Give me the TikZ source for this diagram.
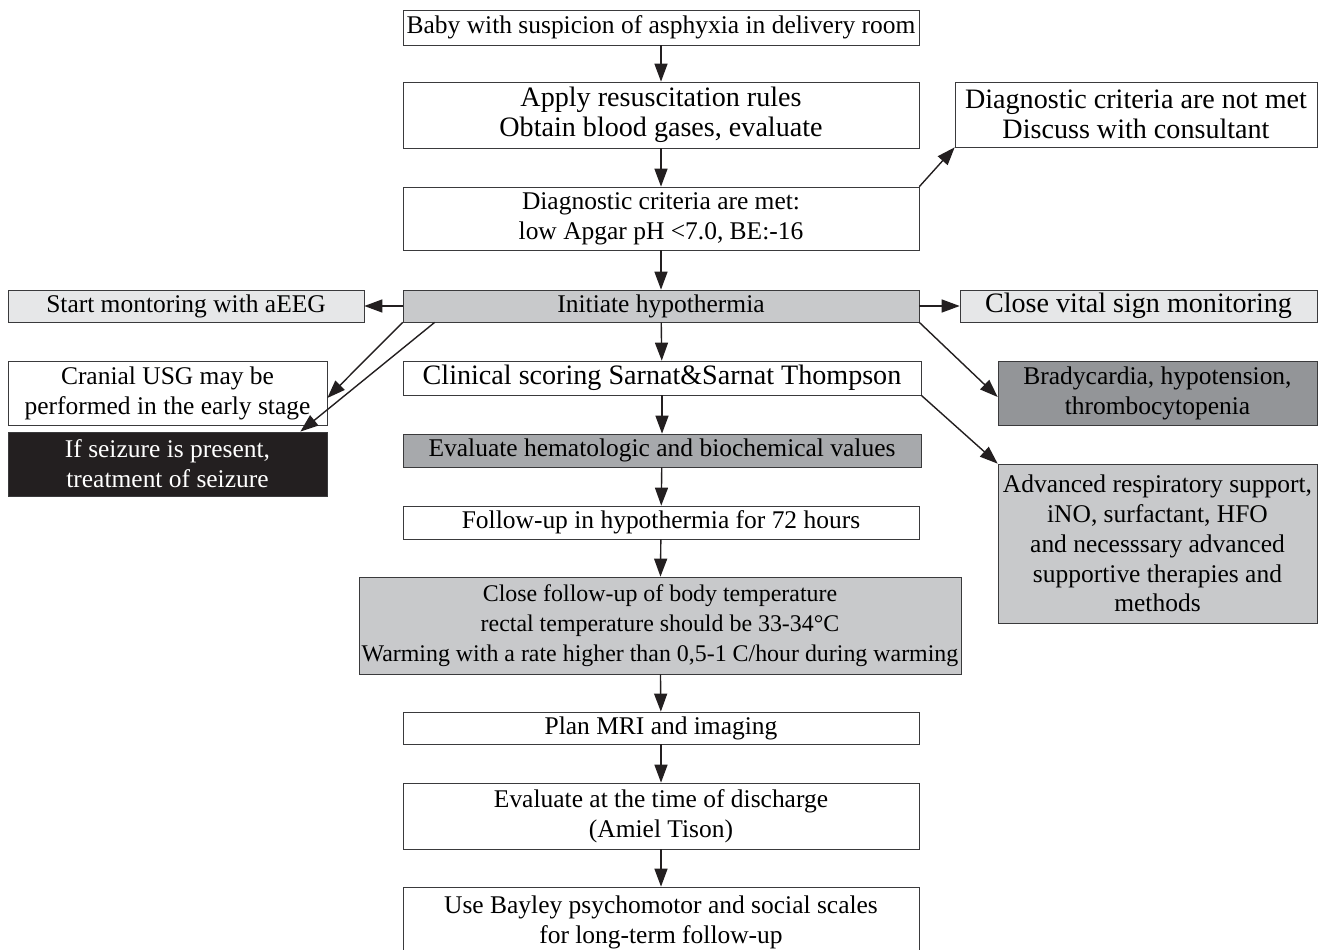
\documentclass[tikz,border=0pt]{standalone}
\usepackage{fontspec}
\setmainfont{Liberation Serif}
\usepackage{tikz}
\usetikzlibrary{arrows.meta,positioning,calc}

\definecolor{boxline}{HTML}{3A3A3C}
\definecolor{palegray}{HTML}{E6E7E8}
\definecolor{midgray}{HTML}{C8C9CB}
\definecolor{darkgray}{HTML}{A7A9AC}
\definecolor{deepgray}{HTML}{939598}
\definecolor{nearblack}{HTML}{231F20}

\tikzset{
  box/.style={draw=boxline, rectangle, inner sep=0pt, align=center,
    font=\fontsize{14.5}{17}\selectfont},
  bigtext/.style={font=\fontsize{16}{17}\selectfont},
  mainbox/.style={box, minimum width=10.32cm},
  flow/.style={-{Triangle[length=3.6mm,width=2.6mm]}, thick, draw=nearblack}
}

\begin{document}
\begin{tikzpicture}[x=0.02cm,y=-0.02cm]
  \clip (0,0) rectangle (1319,950);
  % main column
  \node[mainbox, minimum height=0.70cm] at (661,27.5) (baby) {Baby with suspicion of asphyxia in delivery room};
  \node[mainbox, bigtext, minimum height=1.32cm] at (661,115) (resus) {Apply resuscitation rules\\Obtain blood gases, evaluate};
  \node[mainbox, minimum height=1.26cm] at (661,218.5) (met) {Diagnostic criteria are met:\\low Apgar pH <7.0, BE:-16};
  \node[mainbox, fill=midgray, minimum height=0.64cm] at (661,306) (hypo) {Initiate hypothermia};
  \node[box, bigtext, minimum width=10.36cm, minimum height=0.68cm] at (662,378) (score) {Clinical scoring Sarnat\&Sarnat Thompson};
  \node[box, fill=darkgray, minimum width=10.36cm, minimum height=0.66cm] at (662,450.5) (lab) {Evaluate hematologic and biochemical values};
  \node[mainbox, minimum height=0.66cm] at (661,522.5) (follow) {Follow-up in hypothermia for 72 hours};
  \node[box, fill=midgray, font=\fontsize{13.6}{17}\selectfont, minimum width=12.04cm, minimum height=1.94cm] at (660,625.5) (temp) {Close follow-up of body temperature\\rectal temperature should be 33-34°C\\Warming with a rate higher than 0,5-1 C/hour during warming};
  \node[mainbox, minimum height=0.64cm] at (661,728) (mri) {Plan MRI and imaging};
  \node[mainbox, minimum height=1.32cm] at (661,816) (disch) {Evaluate at the time of discharge\\(Amiel Tison)};
  \node[mainbox, minimum height=1.40cm] at (661,922) (bayley) {Use Bayley psychomotor and social scales\\for long-term follow-up};

  % side boxes
  \node[box, bigtext, minimum width=7.24cm, minimum height=1.30cm] at (1136,114.5) (notmet) {Diagnostic criteria are not met\\Discuss with consultant};
  \node[box, fill=palegray, minimum width=7.12cm, minimum height=0.64cm] at (186,306) (aeeg) {Start montoring with aEEG};
  \node[box, bigtext, fill=palegray, minimum width=7.14cm, minimum height=0.64cm] at (1138.5,306) (vital) {Close vital sign monitoring};
  \node[box, minimum width=6.38cm, minimum height=1.28cm] at (167.5,393) (usg) {Cranial USG may be\\performed in the early stage};
  \node[box, fill=nearblack, text=white, minimum width=6.38cm, minimum height=1.28cm] at (167.5,464) (seiz) {If seizure is present,\\treatment of seizure};
  \node[box, fill=deepgray, minimum width=6.38cm, minimum height=1.28cm] at (1157.5,393) (brady) {Bradycardia, hypotension,\\thrombocytopenia};
  \node[box, fill=midgray, minimum width=6.38cm, minimum height=3.18cm] at (1157.5,543.5) (resp) {Advanced respiratory support,\\iNO, surfactant, HFO\\and necesssary advanced\\supportive therapies and\\methods};

  % connectors
  \draw[flow] (baby) -- (resus);
  \draw[flow] (resus) -- (met);
  \draw[flow] (met) -- (hypo);
  \draw[flow] (hypo) -- (score);
  \draw[flow] (score) -- (lab);
  \draw[flow] (lab) -- (follow);
  \draw[flow] (follow) -- (temp);
  \draw[flow] (temp) -- (mri);
  \draw[flow] (mri) -- (disch);
  \draw[flow] (disch) -- (bayley);
  \draw[flow] (met.north east) -- (notmet.south west);
  \draw[flow] (hypo) -- (aeeg);
  \draw[flow] (hypo) -- (vital);
  \draw[flow] (hypo.south west) -- ([yshift=-0.1cm]usg.east);
  \draw[flow] ([xshift=0.64cm]hypo.south west) -- ([xshift=-0.54cm]seiz.north east);
  \draw[flow] (hypo.south east) -- ([yshift=-0.08cm]brady.west);
  \draw[flow] (score.south east) -- (resp.north west);
\end{tikzpicture}
\end{document}
